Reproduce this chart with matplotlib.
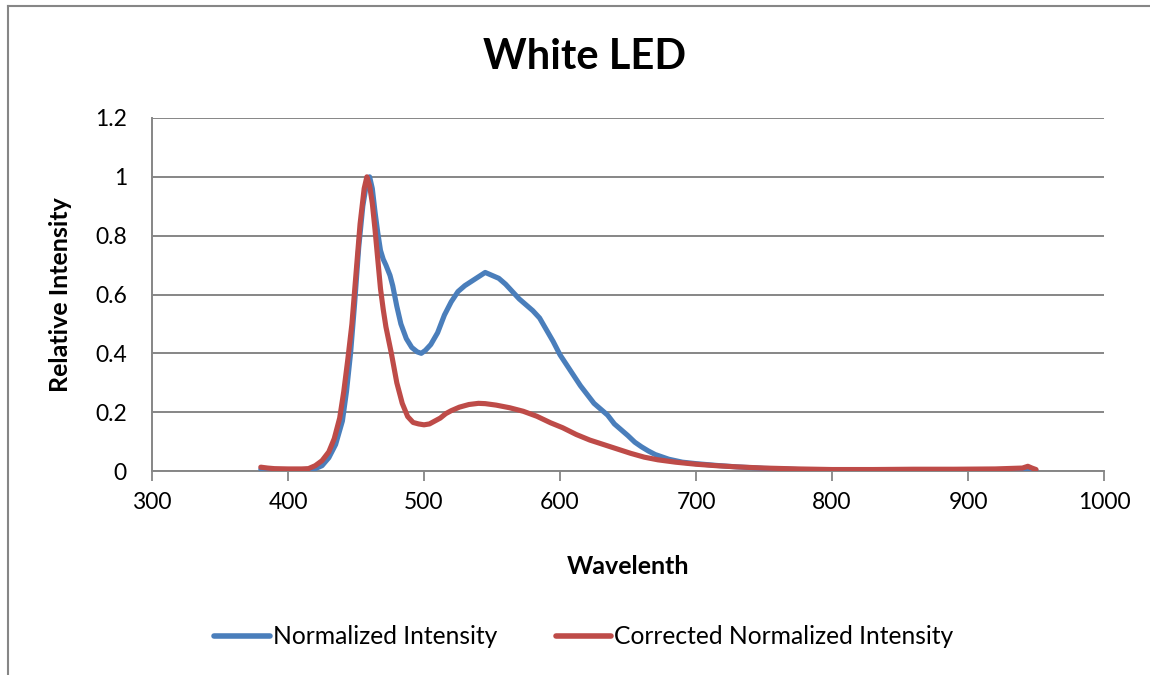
import matplotlib
matplotlib.use("Agg")
import matplotlib.pyplot as plt
from matplotlib.lines import Line2D

# ---- data ----
wl_blue = [380, 390, 400, 410, 420, 425, 430, 435, 440, 443, 446, 449, 452, 455, 458, 460,
           462, 464, 466, 468, 470, 472, 475, 477, 480, 483, 487, 491, 495, 498, 501, 505,
           510, 515, 520, 525, 530, 535, 540, 545, 550, 555, 560, 565, 570, 575, 580, 585,
           590, 595, 600, 605, 610, 615, 620, 625, 630, 635, 640, 645, 650, 655, 660, 665,
           670, 680, 690, 700, 715, 730, 750, 775, 800, 850, 900, 950]
norm_intensity = [0.006, 0.005, 0.004, 0.004, 0.008, 0.018, 0.045, 0.09, 0.17, 0.27, 0.40, 0.57,
                  0.76, 0.90, 0.985, 1.0, 0.96, 0.88, 0.81, 0.75, 0.72, 0.70, 0.665, 0.63, 0.56,
                  0.50, 0.45, 0.42, 0.405, 0.40, 0.41, 0.43, 0.47, 0.53, 0.575, 0.61, 0.63,
                  0.645, 0.66, 0.675, 0.665, 0.655, 0.635, 0.61, 0.585, 0.565, 0.545, 0.52,
                  0.48, 0.44, 0.395, 0.36, 0.325, 0.29, 0.26, 0.23, 0.21, 0.19, 0.16, 0.14,
                  0.12, 0.098, 0.082, 0.068, 0.056, 0.04, 0.03, 0.025, 0.019, 0.014, 0.009,
                  0.005, 0.003, 0.002, 0.002, 0.002]

wl_red = [380, 385, 390, 400, 410, 415, 420, 425, 430, 434, 438, 441, 444, 447, 450, 453, 456,
          458, 460, 462, 464, 466, 468, 470, 472, 476, 480, 484, 488, 492, 496, 500, 504, 508,
          512, 516, 520, 526, 533, 540, 545, 553, 563, 573, 583, 593, 602, 612, 622, 632, 642,
          652, 662, 672, 685, 700, 715, 730, 750, 775, 800, 830, 860, 890, 920, 940, 944, 947, 950]
corr_intensity = [0.013, 0.010, 0.008, 0.007, 0.007, 0.008, 0.018, 0.035, 0.065, 0.11, 0.18,
                  0.27, 0.38, 0.50, 0.67, 0.84, 0.96, 1.0, 0.97, 0.91, 0.82, 0.72, 0.62, 0.55,
                  0.49, 0.40, 0.30, 0.23, 0.185, 0.165, 0.16, 0.157, 0.16, 0.17, 0.18, 0.195,
                  0.205, 0.217, 0.226, 0.23, 0.229, 0.224, 0.215, 0.203, 0.186, 0.164, 0.147,
                  0.124, 0.105, 0.09, 0.075, 0.06, 0.047, 0.038, 0.03, 0.023, 0.018, 0.014,
                  0.010, 0.007, 0.005, 0.005, 0.006, 0.006, 0.007, 0.010, 0.016, 0.010, 0.005]

x_ticks = [300, 400, 500, 600, 700, 800, 900, 1000]
y_ticks = [0, 0.2, 0.4, 0.6, 0.8, 1.0, 1.2]
y_tick_labels = ["0", "0.2", "0.4", "0.6", "0.8", "1", "1.2"]

title = "White LED"
x_label = "Wavelenth"
y_label = "Relative Intensity"
series_names = ["Normalized Intensity", "Corrected Normalized Intensity"]

BLUE = "#4A7EBB"
RED = "#BE4B48"
GREY = "#868686"
FONT = "Lato"

W, H = 1150, 675
fig = plt.figure(figsize=(W / 100, H / 100), dpi=100)
fig.patch.set_facecolor("white")

ax = fig.add_axes([152 / W, 1 - 471 / H, (1104 - 152) / W, (471 - 118) / H])
ax.plot(wl_blue, norm_intensity, color=BLUE, lw=3.7, solid_capstyle="round",
        solid_joinstyle="round", zorder=3)
ax.plot(wl_red, corr_intensity, color=RED, lw=3.7, solid_capstyle="round",
        solid_joinstyle="round", zorder=4)

ax.set_xlim(300, 1000)
ax.set_ylim(0, 1.2)
ax.set_xticks(x_ticks)
ax.set_xticklabels([str(v) for v in x_ticks], fontfamily=FONT, fontsize=16.5)
ax.set_yticks(y_ticks)
ax.set_yticklabels(y_tick_labels, fontfamily=FONT, fontsize=16.5)
ax.tick_params(axis="x", direction="out", length=7, width=1.3, color=GREY, pad=8)
ax.tick_params(axis="y", length=0, pad=18)
ax.yaxis.grid(True, color=GREY, lw=1.4)
ax.set_axisbelow(True)
for s in ["top", "right"]:
    ax.spines[s].set_visible(False)
for s in ["left", "bottom"]:
    ax.spines[s].set_color(GREY)
    ax.spines[s].set_linewidth(1.4)

fig.text(585 / W, 1 - 57 / H, title, ha="center", va="center",
         fontfamily=FONT, fontweight="bold", fontsize=30)
fig.text(628 / W, 1 - 566 / H, x_label, ha="center", va="center",
         fontfamily=FONT, fontweight="bold", fontsize=18)
fig.text(60 / W, 1 - 295 / H, y_label, ha="center", va="center", rotation=90,
         fontfamily=FONT, fontweight="bold", fontsize=18)

handles = [Line2D([], [], color=BLUE, lw=4, solid_capstyle="round"),
           Line2D([], [], color=RED, lw=4, solid_capstyle="round")]
leg = fig.legend(handles, series_names, loc="center", bbox_to_anchor=(584 / W, 1 - 637 / H),
                 ncol=2, frameon=False, prop={"family": FONT, "size": 17.7},
                 handlelength=2.25, handletextpad=0.12, columnspacing=2.4)

# outer chart-area border (left and top visible)
fig.add_artist(Line2D([8 / W, 8 / W], [0, 1 - 6 / H], color=GREY, lw=1.5))
fig.add_artist(Line2D([8 / W, 1], [1 - 6 / H, 1 - 6 / H], color=GREY, lw=1.5))

fig.savefig("out.png", dpi=100, facecolor="white")
